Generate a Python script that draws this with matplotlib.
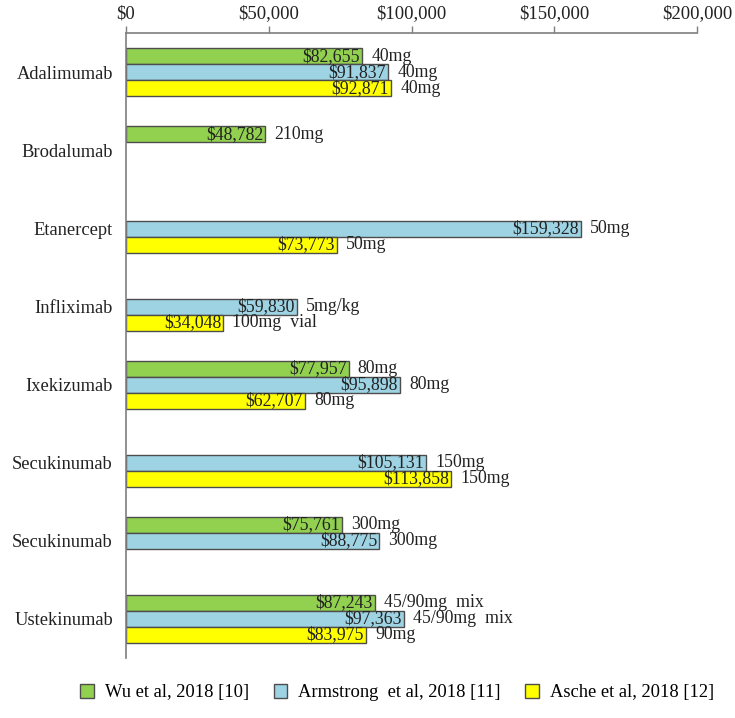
import numpy as np
import matplotlib.pyplot as plt

# Drug categories (top to bottom) and the three studies
drugs = ['Adalimumab', 'Brodalumab', 'Etanercept', 'Infliximab',
         'Ixekizumab', 'Secukinumab', 'Secukinumab', 'Ustekinumab']
studies = ['Wu et al, 2018 [10]', 'Armstrong  et al, 2018 [11]', 'Asche et al, 2018 [12]']

# Annual costs (None = not reported)
wu = [82655, 48782, None, None, 77957, None, 75761, 87243]
armstrong = [91837, None, 159328, 59830, 95898, 105131, 88775, 97363]
asche = [92871, None, 73773, 34048, 62707, 113858, None, 83975]

# Dose annotations
wu_dose = ['40mg', '210mg', '', '', '80mg', '', '300mg', '45/90mg  mix']
armstrong_dose = ['40mg', '', '50mg', '5mg/kg', '80mg', '150mg', '300mg', '45/90mg  mix']
asche_dose = ['40mg', '', '50mg', '100mg  vial', '80mg', '150mg', '', '90mg']

colors = ['#92D050', '#9DD3E3', '#FFFF00']

plt.rcParams['font.family'] = ['Liberation Serif', 'DejaVu Serif']

fig = plt.figure(figsize=(7.35, 7.18), dpi=100)
ax = fig.add_axes([0.1714, 0.0836, 0.777, 0.870])

y = np.arange(len(drugs))
h = 0.205
offsets = [-h, 0, h]
series = [wu, armstrong, asche]
doses = [wu_dose, armstrong_dose, asche_dose]

for vals, dose, off, col, name in zip(series, doses, offsets, colors, studies):
    for i, v in enumerate(vals):
        if v is None:
            continue
        ax.barh(y[i] + off, v, height=h, color=col, edgecolor='#4d4d4d', linewidth=1.0)
        ax.text(v - 700, y[i] + off, f'${v:,.0f}', ha='right', va='center',
                fontsize=12.8, color='#222222')
        ax.text(v + 3200, y[i] + off, dose[i], ha='left', va='center',
                fontsize=12.8, color='#222222')
    # legend proxy
    ax.barh([np.nan], [0], color=col, edgecolor='#4d4d4d', linewidth=1.0, label=name)

ax.set_xlim(0, 200000)
ax.set_ylim(len(drugs) - 0.5, -0.5)
ax.set_yticks(y)
ax.set_yticklabels(drugs, fontsize=13.3, color='#222222')
ax.tick_params(axis='y', length=0, pad=9.4)

ax.xaxis.tick_top()
ax.set_xticks([0, 50000, 100000, 150000, 200000])
ax.set_xticklabels(['$0', '$50,000', '$100,000', '$150,000', '$200,000'],
                   fontsize=13.5, color='#222222')
ax.tick_params(axis='x', direction='out', length=5, width=1, color='#7f7f7f', pad=3)

for s in ['right', 'bottom']:
    ax.spines[s].set_visible(False)
for s in ['left', 'top']:
    ax.spines[s].set_color('#7f7f7f')
    ax.spines[s].set_linewidth(1.2)

ax.legend(loc='upper center', bbox_to_anchor=(0.475, -0.015), ncol=3, frameon=False,
          fontsize=13.3, handlelength=0.75, handleheight=0.75, handletextpad=0.6,
          columnspacing=1.3)

fig.savefig('out.png', dpi=100)
